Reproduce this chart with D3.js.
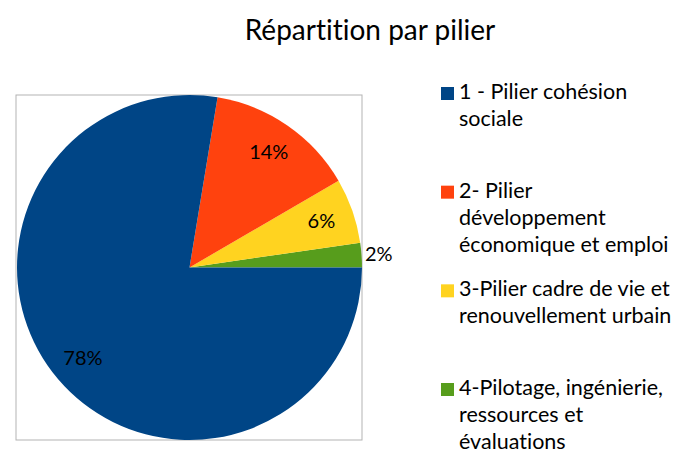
<!DOCTYPE html>
<style>
body { margin: 0; padding: 0; background: #fff; }
text { font-family: Lato, "Open Sans", sans-serif; fill: #000; font-variant-ligatures: none; }
</style>
<svg width="681" height="455"></svg>
<script src="https://d3js.org/d3.v7.min.js"></script>
<script>

var categories = [
  "4-Pilotage, ingénierie,\nressources et\névaluations",
  "3-Pilier cadre de vie et\nrenouvellement urbain",
  "2- Pilier\ndéveloppement\néconomique et emploi",
  "1 - Pilier cohésion\nsociale"
];
var values = [2.3, 6.1, 14.0, 77.6];
var colors = ["#579d1c", "#ffd320", "#ff420e", "#004586"];
var title = "Répartition par pilier";

var svg = d3.select("svg"),
    cx = 189.5, cy = 267.5, r = 172.5;

svg.append("text")
    .attr("x", 370)
    .attr("y", 40)
    .attr("text-anchor", "middle")
    .attr("font-size", 28)
    .text(title);

// plot area frame
svg.append("rect")
    .attr("x", cx - r - 1)
    .attr("y", cy - r)
    .attr("width", 2 * r + 1)
    .attr("height", 2 * r)
    .attr("fill", "none")
    .attr("stroke", "#b3b3b3")
    .attr("stroke-width", 1);

var data = values.map(function(v, i) {
  return {value: v, color: colors[i], label: categories[i]};
});

// counter-clockwise from 3 o'clock
var pie = d3.pie()
    .sort(null)
    .value(function(d) { return d.value; })
    .startAngle(Math.PI / 2)
    .endAngle(Math.PI / 2 - 2 * Math.PI);

var arc = d3.arc().innerRadius(0).outerRadius(r);
var labelArc = d3.arc().innerRadius(r * 0.81).outerRadius(r * 0.81);
var outArc = d3.arc().innerRadius(r * 1.1).outerRadius(r * 1.1);

var g = svg.append("g").attr("transform", "translate(" + cx + "," + cy + ")");
var arcs = pie(data);

g.selectAll("path")
  .data(arcs)
  .enter().append("path")
    .attr("d", arc)
    .attr("fill", function(d) { return d.data.color; });

g.selectAll("text")
  .data(arcs)
  .enter().append("text")
    .attr("transform", function(d) {
      var c = d.data.value < 4 ? outArc.centroid(d) : labelArc.centroid(d);
      return "translate(" + c + ")";
    })
    .attr("dy", "0.35em")
    .attr("text-anchor", "middle")
    .attr("font-size", 20)
    .text(function(d) { return Math.round(d.data.value) + "%"; });

// legend, top entry first
var legendData = data.slice().reverse();
var ly = d3.scalePoint()
    .domain(legendData.map(function(d) { return d.label; }))
    .range([99, 395]);

var legend = svg.append("g")
  .selectAll("g")
  .data(legendData)
  .enter().append("g")
    .attr("transform", function(d) { return "translate(441," + ly(d.label) + ")"; });

legend.append("rect")
    .attr("x", 0)
    .attr("y", -12)
    .attr("width", 13)
    .attr("height", 13)
    .attr("fill", function(d) { return d.color; });

legend.append("text")
    .attr("font-size", 21.5)
    .selectAll("tspan")
    .data(function(d) { return d.label.split("\n"); })
    .enter().append("tspan")
      .attr("x", 18)
      .attr("y", function(d, i) { return i * 27; })
      .text(function(d) { return d; });

</script>
